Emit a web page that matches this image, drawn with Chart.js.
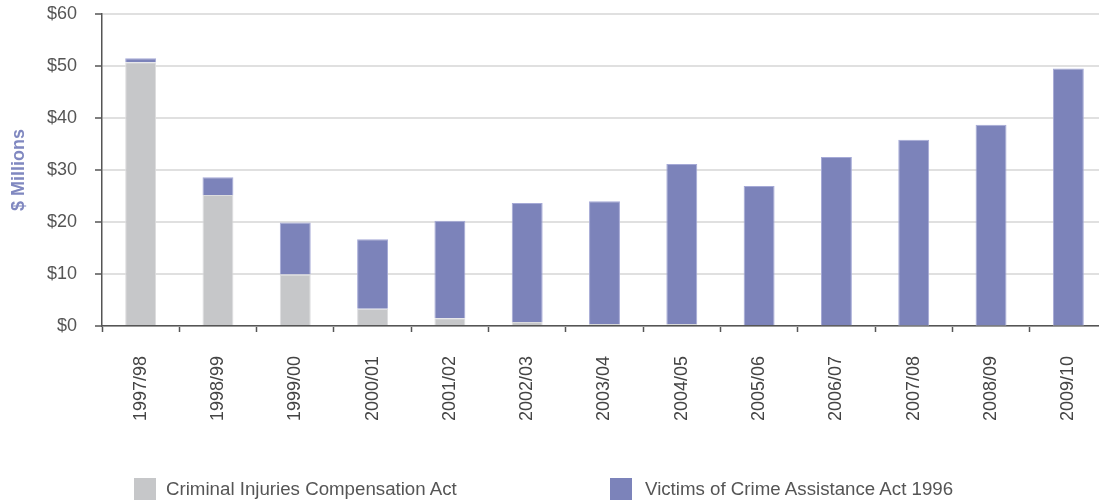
<!DOCTYPE html>
<html>
<head>
<meta charset="utf-8">
<script src="https://cdn.jsdelivr.net/npm/chart.js@4/dist/chart.umd.min.js"></script>
<style>
  html, body { margin: 0; padding: 0; background: #fff; overflow: hidden; }
  #wrap { position: relative; width: 1099px; height: 504px; overflow: hidden; }
  #c { position: absolute; left: 0; top: 0; }
  .leg { position: absolute; top: 478px; height: 22px; display: flex; align-items: center;
         font-family: "Liberation Sans", Arial, sans-serif; font-size: 18.7px; color: #555; white-space: nowrap; }
  .leg .box { width: 22px; height: 22px; }
</style>
</head>
<body>
<div id="wrap">
  <canvas id="c" width="1107" height="504"></canvas>
  <div class="leg" style="left:134px"><span class="box" style="background:#c6c7c9;margin-right:10px"></span><span>Criminal Injuries Compensation Act</span></div>
  <div class="leg" style="left:610px"><span class="box" style="background:#7c83ba;margin-right:13px"></span><span>Victims of Crime Assistance Act 1996</span></div>
</div>
<script>
const categories = ["1997/98","1998/99","1999/00","2000/01","2001/02","2002/03","2003/04","2004/05","2005/06","2006/07","2007/08","2008/09","2009/10"];
const criminalInjuries = [50.7, 25.2, 9.9, 3.3, 1.5, 0.75, 0.4, 0.4, 0.2, 0.15, 0.1, 0.1, 0.1];
const victimsOfCrime = [0.8, 3.4, 10.0, 13.4, 18.75, 22.9, 23.6, 30.75, 26.7, 32.35, 35.7, 38.6, 49.4];
const yTicks = [0, 10, 20, 30, 40, 50, 60];
const seriesNames = ["Criminal Injuries Compensation Act", "Victims of Crime Assistance Act 1996"];

const tickFont = { family: "'Liberation Sans', Arial, sans-serif", size: 18 };

new Chart(document.getElementById('c'), {
  type: 'bar',
  data: {
    labels: categories,
    datasets: [
      { label: seriesNames[0], data: criminalInjuries, backgroundColor: '#c6c7c9', borderColor: '#dcdcde', borderWidth: 1,
        barPercentage: 0.4, categoryPercentage: 1.0 },
      { label: seriesNames[1], data: victimsOfCrime, backgroundColor: '#7c83ba', borderColor: '#a5a9d6', borderWidth: 1,
        barPercentage: 0.4, categoryPercentage: 1.0 }
    ]
  },
  options: {
    responsive: false,
    animation: false,
    layout: { padding: { top: 14, right: 0, bottom: 0, left: 0 } },
    plugins: { legend: { display: false }, tooltip: { enabled: false } },
    scales: {
      x: {
        stacked: true,
        afterFit: s => { s.height = 178; s.paddingLeft = 0; s.paddingRight = 0; s.paddingTop = 0; s.paddingBottom = 0; },
        grid: { display: true, drawOnChartArea: false, offset: true, tickLength: 6, tickColor: '#555', tickWidth: 1.5 },
        border: { display: true, color: '#555', width: 1.5 },
        ticks: { minRotation: 90, maxRotation: 90, padding: 24, color: '#444', font: tickFont, autoSkip: false }
      },
      y: {
        stacked: true,
        min: 0, max: 60,
        afterFit: s => { s.width = 102; s.paddingTop = 0; s.paddingBottom = 0; s.paddingLeft = 0; s.paddingRight = 0; },
        afterBuildTicks: s => { s.ticks = yTicks.map(v => ({ value: v })); },
        title: { display: true, text: '$ Millions', color: '#8088c0',
                 font: { family: "'Liberation Sans', Arial, sans-serif", size: 18, weight: 'bold' }, padding: { top: 8, bottom: 0 } },
        grid: { color: '#e0e0e0', lineWidth: 2, tickLength: 7, tickColor: '#555', tickWidth: 1.5 },
        border: { display: true, color: '#555', width: 1.5 },
        ticks: { padding: 18, color: '#555', font: tickFont, callback: v => '$' + v }
      }
    }
  }
});
</script>
</body>
</html>
